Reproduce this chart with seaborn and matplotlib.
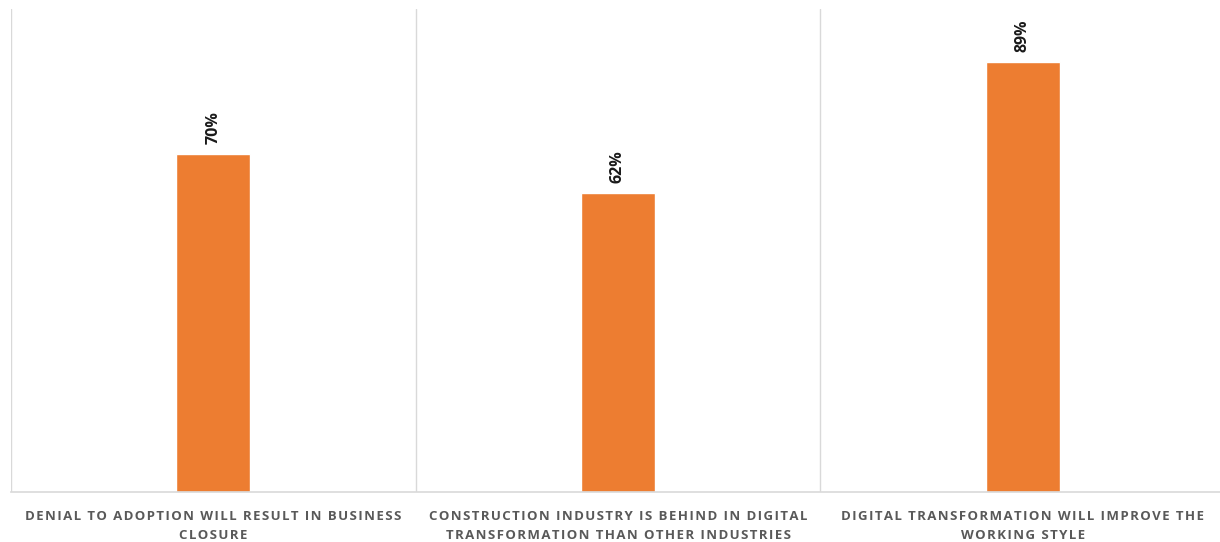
import matplotlib
matplotlib.use("Agg")
import matplotlib.pyplot as plt
import seaborn as sns
import pandas as pd

categories = [
    "DENIAL TO ADOPTION WILL RESULT IN BUSINESS\nCLOSURE",
    "CONSTRUCTION INDUSTRY IS BEHIND IN DIGITAL\nTRANSFORMATION THAN OTHER INDUSTRIES",
    "DIGITAL TRANSFORMATION WILL IMPROVE THE\nWORKING STYLE",
]
values = [70, 62, 89]
value_labels = ["70%", "62%", "89%"]

sns.set_theme(style="white")
plt.rcParams['font.family'] = ['Open Sans', 'DejaVu Sans']


def spaced(s):
    # emulate letter spacing with hair spaces between characters
    lines = s.split("\n")
    return "\n".join("\u200a".join(line) for line in lines)


df = pd.DataFrame({"cat": categories, "val": values})

fig = plt.figure(figsize=(12.2, 5.42), dpi=100)
ax = fig.add_axes([11/1220, 50/542, 1214/1220, 483/542])
sns.barplot(data=df, x="cat", y="val", color="#ED7D31", width=0.183,
            saturation=1, ax=ax)

ax.set_ylim(0, 100)
ax.set_xlim(-0.5, 2.5)
for s in ["top", "right", "left"]:
    ax.spines[s].set_visible(False)
ax.spines["bottom"].set_color("#D9D9D9")
ax.spines["bottom"].set_linewidth(1.2)
for xv in [-0.5, 0.5, 1.5, 2.5]:
    ax.axvline(xv, color="#D9D9D9", lw=1.0, zorder=0)

ax.set_yticks([])
ax.set_xlabel("")
ax.set_ylabel("")
ax.tick_params(axis="x", length=0, pad=13)
ax.set_xticks(range(len(categories)))
ax.set_xticklabels([spaced(c) for c in categories], fontsize=9.5,
                   fontweight="bold", color="#595959", linespacing=1.6)

for i, (v, lab) in enumerate(zip(values, value_labels)):
    ax.text(i, v + 2, lab, rotation=90, ha="center", va="bottom",
            fontsize=11.5, fontweight="bold", color="#1A1A1A")

fig.savefig("out.png", dpi=100)
